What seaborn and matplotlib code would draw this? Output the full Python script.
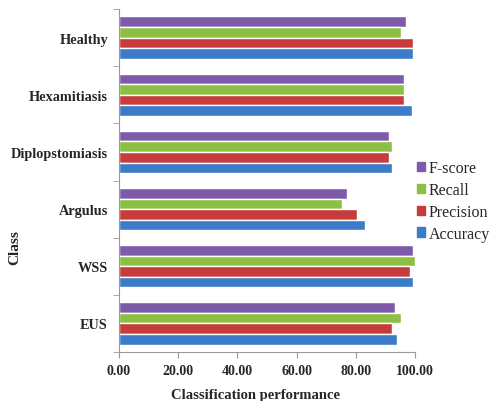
import numpy as np
import pandas as pd
import matplotlib
matplotlib.use("Agg")
import matplotlib.pyplot as plt
from matplotlib.ticker import FixedLocator
import seaborn as sns

classes = ["Healthy", "Hexamitiasis", "Diplopstomiasis", "Argulus", "WSS", "EUS"]
metrics = ["F-score", "Recall", "Precision", "Accuracy"]
fscore = [97.0, 96.1, 91.0, 77.1, 99.2, 93.2]
recall = [95.1, 96.1, 92.1, 75.2, 100.0, 95.1]
precision = [99.2, 96.1, 91.0, 80.3, 98.1, 92.1]
accuracy = [99.2, 99.1, 92.3, 83.2, 99.4, 93.8]
colors = ["#7E5BAA", "#8CC043", "#C83B3B", "#3C7BC8"]

rows = []
for m, vals in zip(metrics, [fscore, recall, precision, accuracy]):
    for c, v in zip(classes, vals):
        rows.append({"Class": c, "Metric": m, "Value": v})
df = pd.DataFrame(rows)

sns.set_style("white")
plt.rcParams["font.family"] = ["Liberation Serif", "DejaVu Serif"]

fig = plt.figure(figsize=(4.96, 4.02), dpi=100)
ax = fig.add_axes([0.24, 0.122, 0.597, 0.853])

sns.barplot(data=df, y="Class", x="Value", hue="Metric", order=classes,
            hue_order=metrics, palette=colors, width=0.74, orient="h",
            saturation=1, ax=ax, legend=False)

ax.set_xlim(0, 100)
ax.set_ylim(len(classes) - 0.5, -0.5)
ax.set_xticks(np.arange(0, 101, 20))
ax.set_xticklabels([f"{v:.2f}" for v in np.arange(0, 101, 20)],
                   fontsize=10, fontweight="bold")
ax.set_yticks(range(len(classes)))
ax.set_yticklabels(classes, fontsize=10.3, fontweight="bold")
ax.yaxis.set_minor_locator(FixedLocator(np.arange(-0.5, len(classes), 1)))
ax.tick_params(axis="y", which="major", length=0, pad=8)
ax.tick_params(axis="y", which="minor", length=4, color="#999999", left=True)
ax.tick_params(axis="x", which="major", length=4, color="#999999", bottom=True, pad=5)

for s in ["top", "right"]:
    ax.spines[s].set_visible(False)
for s in ["left", "bottom"]:
    ax.spines[s].set_color("#999999")
    ax.spines[s].set_linewidth(0.8)

ax.set_xlabel("Classification performance", fontsize=10.5, fontweight="bold")
ax.set_ylabel("Class", fontsize=11, fontweight="bold")
ax.xaxis.set_label_coords(0.46, -0.105)
ax.yaxis.set_label_coords(-0.33, 0.306)

handles = [plt.Rectangle((0, 0), 1, 1, color=c) for c in colors]
fig.legend(handles, metrics, loc="center left",
           bbox_to_anchor=(417 / 496, 1 - 202 / 402), frameon=False,
           fontsize=11.5, handlelength=0.5, handleheight=0.5,
           handletextpad=0.25, labelspacing=0.36, borderaxespad=0,
           borderpad=0)

fig.savefig("out.png", dpi=100)
